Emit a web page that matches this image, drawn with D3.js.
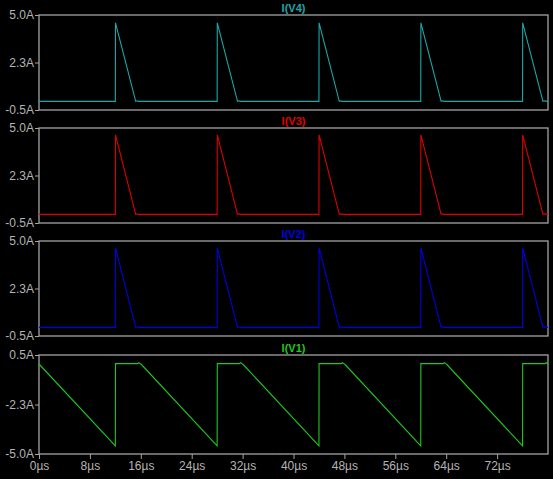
<!DOCTYPE html>
<html>
<head>
<meta charset="utf-8">
<script src="https://cdn.jsdelivr.net/npm/d3@7"></script>
<style>
  html, body { margin: 0; padding: 0; background: #000; }
  text { font-family: "Liberation Sans", Arial, sans-serif; }
</style>
</head>
<body>
<div id="chart"></div>
<script>
// pulse currents (time in µs, current in A)
const iV4 = [
  [0, 0], [12, 0], [12.02, 4.55], [15.2, 0], [15.4, 0.03], [15.6, 0],
  [28, 0], [28.02, 4.55], [31.2, 0], [31.4, 0.03], [31.6, 0],
  [44, 0], [44.02, 4.55], [47.2, 0], [47.4, 0.03], [47.6, 0],
  [60, 0], [60.02, 4.55], [63.2, 0], [63.4, 0.03], [63.6, 0],
  [76, 0], [76.02, 4.55], [79.2, 0], [79.4, 0.03], [80, 0]
];
const iV3 = [
  [0, 0], [12, 0], [12.02, 4.6], [15.2, 0], [15.4, 0.03], [15.6, 0],
  [28, 0], [28.02, 4.6], [31.2, 0], [31.4, 0.03], [31.6, 0],
  [44, 0], [44.02, 4.6], [47.2, 0], [47.4, 0.03], [47.6, 0],
  [60, 0], [60.02, 4.6], [63.2, 0], [63.4, 0.03], [63.6, 0],
  [76, 0], [76.02, 4.6], [79.2, 0], [79.4, 0.03], [80, 0]
];
const iV2 = [
  [0, 0], [12, 0], [12.02, 4.6], [15.2, 0], [15.4, 0.03], [15.6, 0],
  [28, 0], [28.02, 4.6], [31.2, 0], [31.4, 0.03], [31.6, 0],
  [44, 0], [44.02, 4.6], [47.2, 0], [47.4, 0.03], [47.6, 0],
  [60, 0], [60.02, 4.6], [63.2, 0], [63.4, 0.03], [63.6, 0],
  [76, 0], [76.02, 4.6], [79.2, 0], [79.4, 0.03], [80, 0]
];
const iV1 = [
  [0, 0], [12, -4.55], [12.02, 0.02], [15.5, 0.02], [15.7, 0.07], [15.9, 0.02],
  [16.1, -0.03], [28, -4.55], [28.02, 0.02], [31.5, 0.02], [31.7, 0.07], [31.9, 0.02],
  [32.1, -0.03], [44, -4.55], [44.02, 0.02], [47.5, 0.02], [47.7, 0.07], [47.9, 0.02],
  [48.1, -0.03], [60, -4.55], [60.02, 0.02], [63.5, 0.02], [63.7, 0.07], [63.9, 0.02],
  [64.1, -0.03], [76, -4.55], [76.02, 0.02], [79.5, 0.02], [79.7, 0.07], [79.9, 0.02], [80, 0.02]
];

const traceNames = ["I(V4)", "I(V3)", "I(V2)", "I(V1)"];
const traceColors = ["#17a9a9", "#e00000", "#0000e0", "#1ec81e"];
const yDomains = [[-0.5, 5], [-0.5, 5], [-0.5, 5], [-5, 0.5]];
const yTickVals = [[-0.5, 2.25, 5], [-0.5, 2.25, 5], [-0.5, 2.25, 5], [-5, -2.25, 0.5]];
const yTickLabels = [["-0.5A", "2.3A", "5.0A"], ["-0.5A", "2.3A", "5.0A"], ["-0.5A", "2.3A", "5.0A"], ["-5.0A", "-2.3A", "0.5A"]];
const xTicks = [0, 8, 16, 24, 32, 40, 48, 56, 64, 72];

const width = 553, height = 479;
const left = 39, right = 548;
const paneTops = [15, 128, 241, 355];
const paneBottoms = [110, 223, 336, 454];
const axisCol = "#a4a4a4";

const svg = d3.select("#chart").append("svg")
  .attr("width", width)
  .attr("height", height)
  .style("background", "#000");

const x = d3.scaleLinear().domain([0, 80]).range([left, right]);
const allData = [iV4, iV3, iV2, iV1];

allData.forEach((data, i) => {
  const y = d3.scaleLinear().domain(yDomains[i]).range([paneBottoms[i], paneTops[i]]);
  const g = svg.append("g");

  // left axis with ticks
  const yAxis = d3.axisLeft(y)
    .tickValues(yTickVals[i])
    .tickSize(4)
    .tickPadding(1)
    .tickFormat((d, k) => yTickLabels[i][k]);
  const ga = g.append("g").attr("transform", "translate(" + left + ",0)").call(yAxis);
  ga.select(".domain").remove();
  ga.selectAll("line").attr("stroke", axisCol);
  ga.selectAll("text").attr("fill", "#b4b4b4").style("font-size", "12px");

  // pane box
  g.append("rect")
    .attr("x", left)
    .attr("y", paneTops[i])
    .attr("width", right - left)
    .attr("height", paneBottoms[i] - paneTops[i])
    .attr("fill", "none")
    .attr("stroke", axisCol)
    .attr("stroke-width", 1.3);

  // title
  g.append("text")
    .attr("x", (left + right) / 2)
    .attr("y", paneTops[i] - 3)
    .attr("text-anchor", "middle")
    .attr("fill", traceColors[i])
    .style("font-size", "11px")
    .style("font-weight", "bold")
    .text(traceNames[i]);

  const line = d3.line().x(d => x(d[0])).y(d => y(d[1]));
  g.append("path")
    .datum(data)
    .attr("d", line)
    .attr("fill", "none")
    .attr("stroke", traceColors[i])
    .attr("stroke-width", 1.1);
});

// bottom time axis
const xAxis = d3.axisBottom(x)
  .tickValues(xTicks)
  .tickSize(5)
  .tickPadding(2)
  .tickFormat(d => d + "µs");
const gx = svg.append("g").attr("transform", "translate(0," + paneBottoms[3] + ")").call(xAxis);
gx.select(".domain").remove();
gx.selectAll("line").attr("stroke", axisCol);
gx.selectAll("text").attr("fill", "#b4b4b4").style("font-size", "12px");
</script>
</body>
</html>
